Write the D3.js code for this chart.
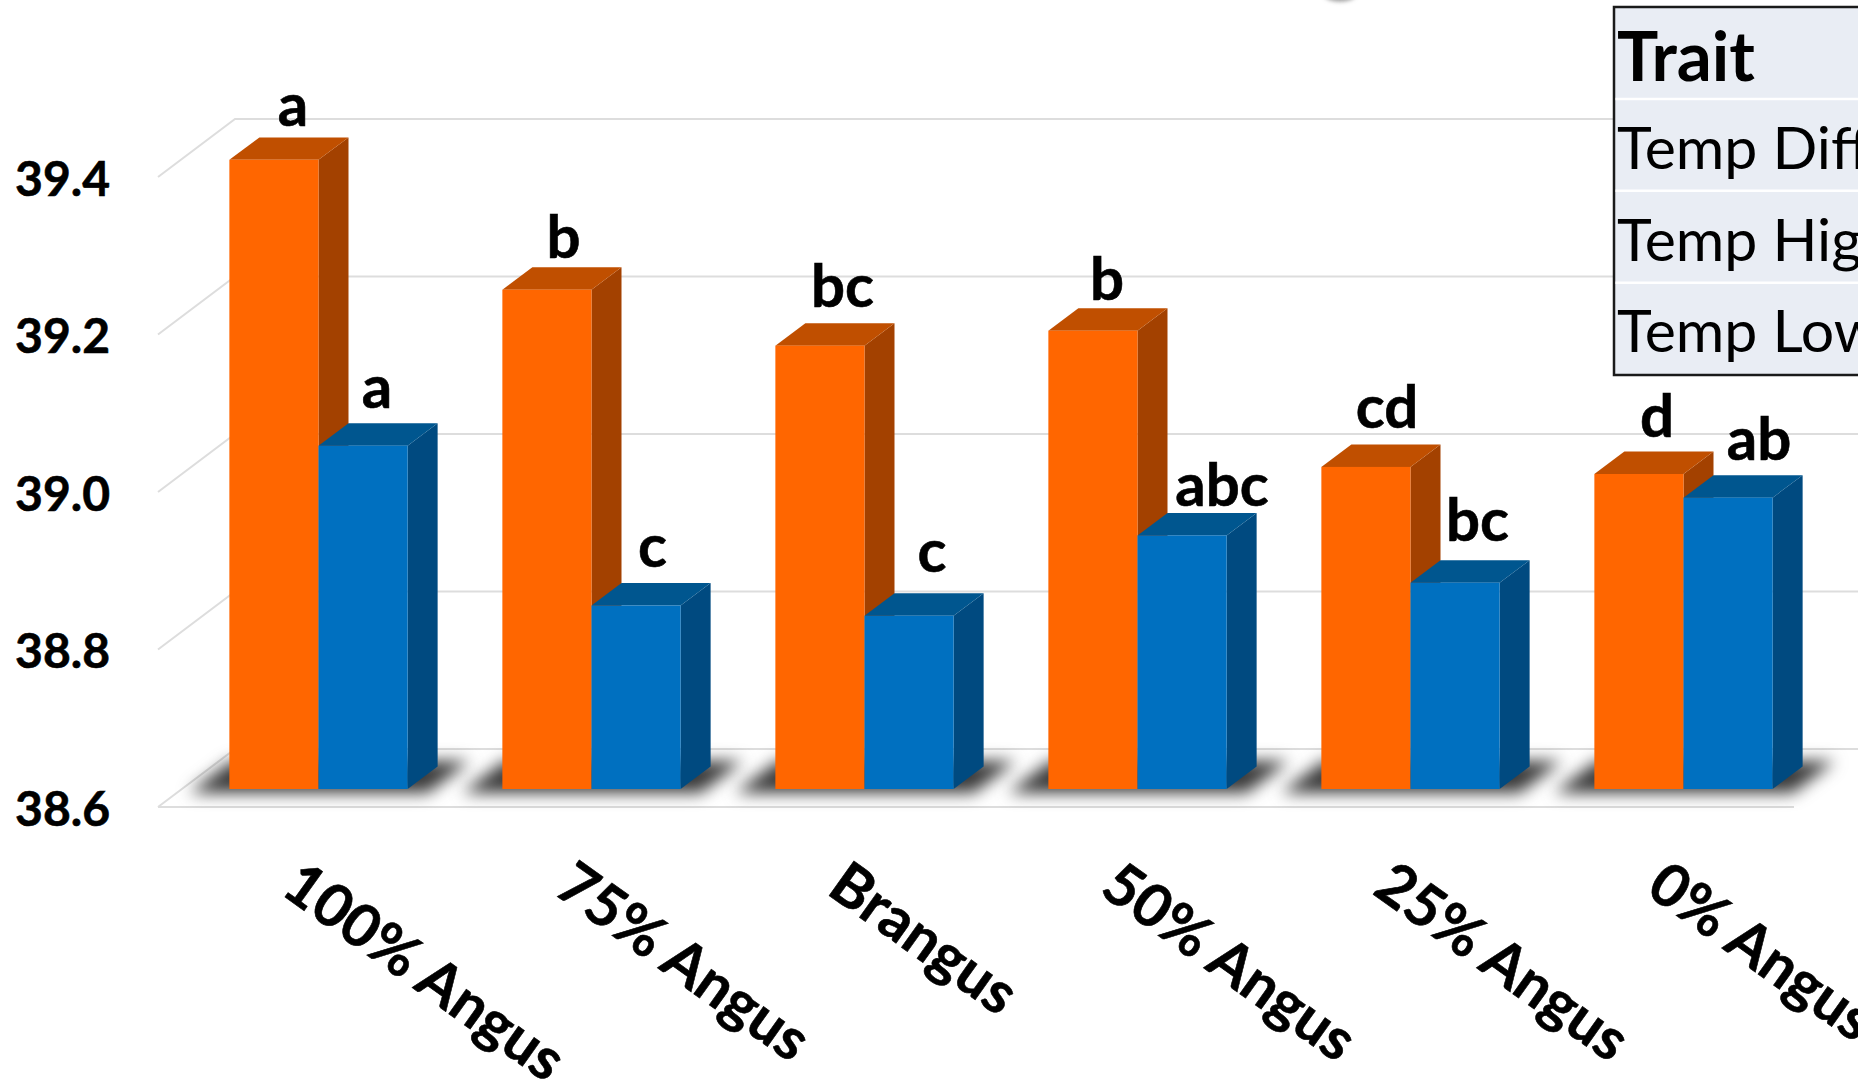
<!DOCTYPE html>
<html>
<head>
<meta charset="utf-8">
<script src="https://cdn.jsdelivr.net/npm/d3@7"></script>
<style>
html,body{margin:0;padding:0;background:#fff;overflow:hidden}
svg{display:block;font-family:Lato,"Noto Sans",sans-serif}
</style>
</head>
<body>
<svg id="chart" width="1858" height="1079"></svg>
<script>
const breeds = ["100% Angus","75% Angus","Brangus","50% Angus","25% Angus","0% Angus"];
const tempHigh = [39.399,39.234,39.163,39.182,39.009,39.000];
const tempLow  = [39.036,38.833,38.820,38.922,38.862,38.970];
const highLetters = ["a","b","bc","b","cd","d"];
const lowLetters  = ["a","c","c","abc","bc","ab"];
const yTicks = [38.6,38.8,39.0,39.2,39.4];
const traitRows = ["Temp Diff","Temp High","Temp Low"];

const W = 1858, H = 1079;
const svg = d3.select("#chart");

// Front faces of the columns sit in a plane part-way through the floor depth.
const y = d3.scaleLinear().domain([38.6,39.4]).range([789,159]);
const x = d3.scaleBand().domain(breeds).range([182,1820]).paddingInner(0.347).paddingOuter(0.1735);
const xs = d3.scaleBand().domain(["high","low"]).range([0,x.bandwidth()]);

const wallFront = {dx:-24, dy:18};   // front edge of floor relative to column plane
const wallBack  = {dx:53,  dy:-40};  // back wall relative to column plane
const barDepth  = {dx:30,  dy:-22.4};
const colors = {
  high:{front:"#FF6600", top:"#C04F00", side:"#A34100"},
  low: {front:"#0070C0", top:"#00568F", side:"#004A80"}
};

// Hand placement of the significance letters, in pixels from their default spot
const highNudge = [[6,2],[3.5,3.5],[-3.5,-3.5],[1,5],[-5,-3.5],[5,-2]];
const lowNudge  = [[1,-2],[3.5,-3.5],[10,-8],[1,6],[-3.5,-6],[5,-2]];

const defs = svg.append("defs");
defs.append("filter").attr("id","soft").attr("x","-20%").attr("y","-100%").attr("width","140%").attr("height","300%")
  .attr("color-interpolation-filters","sRGB")
  .append("feGaussianBlur").attr("stdDeviation",8);
defs.append("filter").attr("id","softer").attr("x","-50%").attr("y","-50%").attr("width","200%").attr("height","200%")
  .append("feGaussianBlur").attr("stdDeviation",2);

const xL = x.range()[0], xR = 1818;

// Gridlines on the back wall and their returns down the side wall
const grid = svg.append("g").attr("stroke","#DDDDDD").attr("stroke-width",2).attr("fill","none");
yTicks.forEach(v=>{
  grid.append("polyline").attr("points",[
    [xL+wallFront.dx,y(v)+wallFront.dy],
    [xL+wallBack.dx,y(v)+wallBack.dy],
    [xR+wallBack.dx,y(v)+wallBack.dy]
  ].join(" "));
});
grid.append("line")
  .attr("x1",xL+wallFront.dx).attr("x2",xR+wallFront.dx)
  .attr("y1",y(38.6)+wallFront.dy).attr("y2",y(38.6)+wallFront.dy);

// Soft floor shadow under each pair of columns
svg.append("g").selectAll("polygon").data(breeds).join("polygon")
  .attr("fill","#3a3a3a").attr("filter","url(#soft)")
  .attr("points",d=>{
    const x0=x(d), x1=x(d)+x.bandwidth(), b=y(38.6);
    return [[x0-40,b+4],[x0+2,b-28],[x1+62,b-28],[x1+20,b+4]].join(" ");
  });

// Columns: each series drawn as side, top and front faces
function column(g, key, values){
  g.each(function(d,i){
    const s=d3.select(this), c=colors[key], v=values[i];
    const x0=x(d)+xs(key), x1=x0+xs.bandwidth(), t=y(v), b=y(38.6), dx=barDepth.dx, dy=barDepth.dy;
    s.append("polygon").attr("fill",c.side).attr("points",[[x1,t],[x1+dx,t+dy],[x1+dx,b+dy],[x1,b]].join(" "));
    s.append("polygon").attr("fill",c.top).attr("points",[[x0,t],[x0+dx,t+dy],[x1+dx,t+dy],[x1,t]].join(" "));
    s.append("rect").attr("fill",c.front).attr("x",x0).attr("y",t).attr("width",x1-x0).attr("height",b-t);
  });
}
const groups = svg.append("g").selectAll("g").data(breeds).join("g");
column(groups,"high",tempHigh);
column(groups,"low",tempLow);

// Significance letters above each column
function letters(key, values, text, nudge){
  svg.append("g").attr("font-size",60).attr("font-weight",700).attr("fill","#000")
    .attr("stroke","#000").attr("stroke-width",0.6)
    .selectAll("text").data(breeds).join("text")
    .attr("text-anchor","middle")
    .attr("x",(d,i)=>x(d)+xs(key)+xs.bandwidth()/2+text[i].length*13+nudge[i][0])
    .attr("y",(d,i)=>y(values[i])+barDepth.dy-13+nudge[i][1])
    .text((d,i)=>text[i]);
}
letters("high",tempHigh,highLetters,highNudge);
letters("low",tempLow,lowLetters,lowNudge);

// Value axis aligned with the front edge of the side wall
const yFront = y.copy().range(y.range().map(r=>r+wallFront.dy));
const axisY = svg.append("g")
  .attr("transform",`translate(${xL+wallFront.dx},0)`)
  .call(d3.axisLeft(yFront).tickValues(yTicks).tickSize(0).tickPadding(48).tickFormat(d3.format(".1f")));
axisY.select(".domain").remove();
axisY.selectAll("text").attr("font-size",48).attr("font-weight",700).attr("fill","#000")
  .attr("stroke","#000").attr("stroke-width",0.6)
  .attr("font-family","Lato").attr("dy","0.38em");

// Slanted breed labels
svg.append("g").attr("font-size",59).attr("font-weight",700).attr("fill","#000")
  .attr("stroke","#000").attr("stroke-width",0.6)
  .selectAll("text").data(breeds).join("text")
  .attr("transform",d=>`translate(${x(d)+50},${893}) rotate(35.5)`)
  .text(d=>d);

// Trait table, running off the right edge
const tableX = 1614, tableY = 7, tableBottom = 375;
const rowEdges = [7,99,190.7,282.7,375];
const tbl = svg.append("g");
tbl.append("rect").attr("x",tableX).attr("y",tableY).attr("width",W-tableX+20).attr("height",tableBottom-tableY)
  .attr("fill","#E9EDF4").attr("stroke","#1a1a1a").attr("stroke-width",2.5);
rowEdges.slice(1,-1).forEach(e=>{
  tbl.append("line").attr("x1",tableX+1.5).attr("x2",W).attr("y1",e).attr("y2",e).attr("stroke","#fff").attr("stroke-width",2.5);
});
tbl.append("text").attr("x",tableX+3).attr("y",81).attr("font-size",69).attr("font-weight",700).text("Trait");
traitRows.forEach((t,i)=>{
  tbl.append("text").attr("x",tableX+3).attr("y",169+i*91.7).attr("font-size",59).attr("font-weight",400).text(t);
});

// Edge of a rounded shape just showing at the top of the frame
svg.append("ellipse").attr("cx",1340).attr("cy",-6).attr("rx",16).attr("ry",7.5)
  .attr("fill","#9a9a9a").attr("filter","url(#softer)");
</script>
</body>
</html>
